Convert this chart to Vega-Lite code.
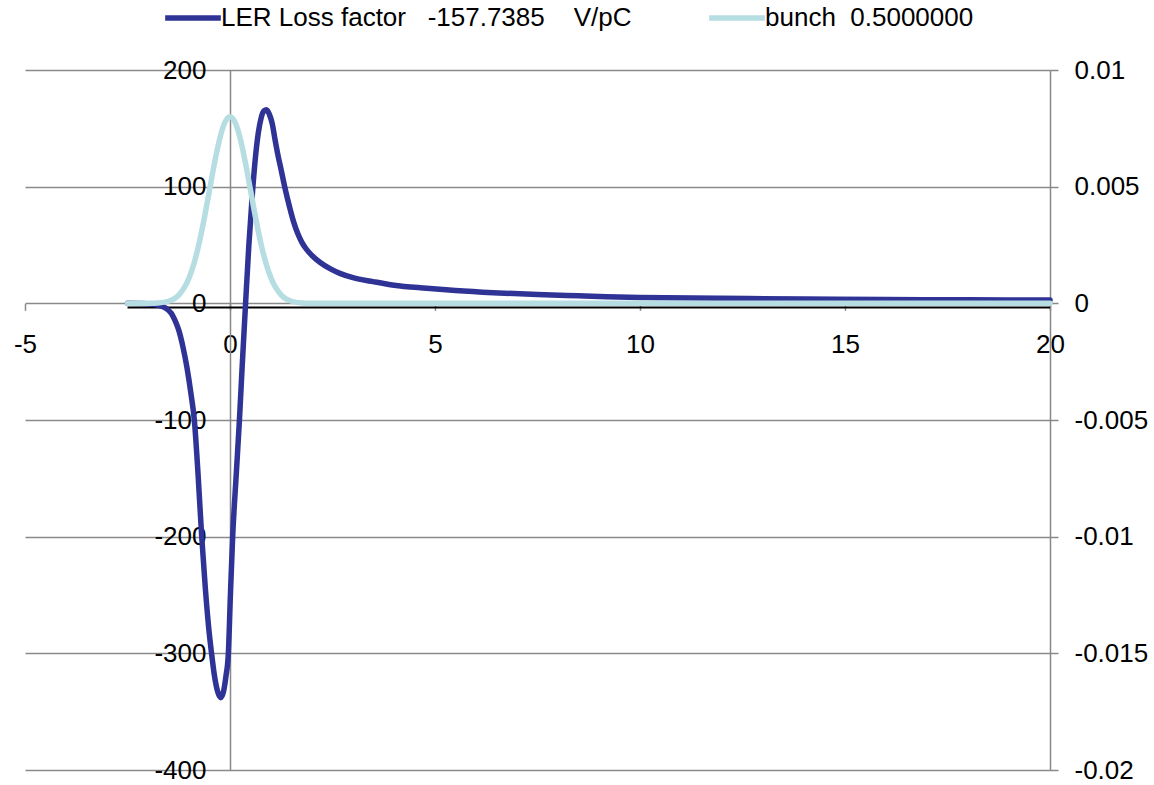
{
  "$schema": "https://vega.github.io/schema/vega-lite/v6.json",
  "width": 1025,
  "height": 700,
  "autosize": {"type": "none"},
  "padding": {"left": 25, "top": 70, "right": 104, "bottom": 15},
  "background": "white",
  "config": {
    "view": {"stroke": null},
    "font": "Liberation Sans",
    "axis": {"labelFont": "Liberation Sans", "labelFontSize": 26, "labelColor": "#000000", "title": null, "labelOverlap": false, "labelFlush": false, "labelBound": false}
  },
  "datasets": {
    "axisline": [{"x": -2.5, "x2": 20, "W": -3.6}],
    "wake": [
      {"x": -2.5, "W": 0}, {"x": -2.2, "W": -0.1}, {"x": -2.0, "W": -0.3}, {"x": -1.8, "W": -1.2},
      {"x": -1.6, "W": -3.5}, {"x": -1.5, "W": -6}, {"x": -1.43, "W": -8.6}, {"x": -1.35, "W": -14},
      {"x": -1.25, "W": -23}, {"x": -1.15, "W": -37}, {"x": -1.05, "W": -55}, {"x": -0.95, "W": -78},
      {"x": -0.87, "W": -100}, {"x": -0.78, "W": -146}, {"x": -0.69, "W": -200}, {"x": -0.6, "W": -245},
      {"x": -0.52, "W": -278}, {"x": -0.45, "W": -300}, {"x": -0.38, "W": -319}, {"x": -0.3, "W": -333},
      {"x": -0.23, "W": -338}, {"x": -0.16, "W": -333}, {"x": -0.1, "W": -320}, {"x": -0.04, "W": -300},
      {"x": 0.01, "W": -250}, {"x": 0.065, "W": -200}, {"x": 0.15, "W": -148}, {"x": 0.23, "W": -100},
      {"x": 0.3, "W": -52}, {"x": 0.38, "W": 0}, {"x": 0.46, "W": 50}, {"x": 0.55, "W": 96},
      {"x": 0.62, "W": 125}, {"x": 0.69, "W": 146}, {"x": 0.76, "W": 159}, {"x": 0.83, "W": 165},
      {"x": 0.89, "W": 166}, {"x": 0.96, "W": 162}, {"x": 1.03, "W": 154}, {"x": 1.1, "W": 140},
      {"x": 1.17, "W": 127}, {"x": 1.25, "W": 114}, {"x": 1.34, "W": 99}, {"x": 1.45, "W": 83},
      {"x": 1.55, "W": 70}, {"x": 1.65, "W": 60}, {"x": 1.75, "W": 52.5}, {"x": 1.85, "W": 47},
      {"x": 2.0, "W": 41}, {"x": 2.2, "W": 35}, {"x": 2.45, "W": 29.5}, {"x": 2.68, "W": 25.7},
      {"x": 3.0, "W": 22}, {"x": 3.49, "W": 18.6}, {"x": 4.0, "W": 15.5}, {"x": 4.8, "W": 12.9},
      {"x": 5.5, "W": 11}, {"x": 6.42, "W": 9.1}, {"x": 7.5, "W": 7.5}, {"x": 8.5, "W": 6.4},
      {"x": 9.19, "W": 5.7}, {"x": 10, "W": 5.1}, {"x": 12, "W": 4.3}, {"x": 14, "W": 3.7},
      {"x": 16, "W": 3.3}, {"x": 18, "W": 3.0}, {"x": 20, "W": 2.8}
    ],
    "bunch": [
      {"x": -2.5, "B": 0}, {"x": -2.25, "B": 0.0000003}, {"x": -2.0, "B": 0.0000027}, {"x": -1.75, "B": 0.0000175},
      {"x": -1.5, "B": 0.000089}, {"x": -1.25, "B": 0.000351}, {"x": -1.0, "B": 0.001083}, {"x": -0.875, "B": 0.001731},
      {"x": -0.75, "B": 0.002597}, {"x": -0.625, "B": 0.003662}, {"x": -0.5, "B": 0.004852}, {"x": -0.375, "B": 0.006038},
      {"x": -0.25, "B": 0.00706}, {"x": -0.125, "B": 0.007754}, {"x": 0, "B": 0.008}, {"x": 0.125, "B": 0.007754},
      {"x": 0.25, "B": 0.00706}, {"x": 0.375, "B": 0.006038}, {"x": 0.5, "B": 0.004852}, {"x": 0.625, "B": 0.003662},
      {"x": 0.75, "B": 0.002597}, {"x": 0.875, "B": 0.001731}, {"x": 1.0, "B": 0.001083}, {"x": 1.25, "B": 0.000351},
      {"x": 1.5, "B": 0.000089}, {"x": 1.75, "B": 0.0000175}, {"x": 2.0, "B": 0.0000027}, {"x": 2.25, "B": 0.0000003},
      {"x": 2.5, "B": 0}, {"x": 3, "B": 0}, {"x": 5, "B": 0}, {"x": 10, "B": 0}, {"x": 15, "B": 0}, {"x": 20, "B": 0}
    ]
  },
  "layer": [
    {
      "layer": [
        {
          "data": {"name": "axisline"},
          "mark": {"type": "rule", "color": "#000000", "strokeWidth": 2},
          "encoding": {
            "x": {"field": "x", "type": "quantitative", "scale": {"domain": [-5, 20], "nice": false, "zero": false},
              "axis": {"orient": "bottom", "offset": -466.67, "values": [-5, 0, 5, 10, 15, 20], "domain": false, "grid": false,
                "ticks": true, "tickSize": 7, "tickColor": "#888888", "tickWidth": 1.5, "labelPadding": 21,
                "labelExpr": "replace(datum.label, '\u2212', '-')"}},
            "x2": {"field": "x2"},
            "y": {"field": "W", "type": "quantitative", "scale": {"domain": [-400, 200], "nice": false, "zero": false},
              "axis": {"orient": "left", "offset": -205, "values": [200, 100, 0, -100, -200, -300, -400],
                "domain": true, "domainColor": "#888888", "domainWidth": 1.5, "ticks": false, "labelPadding": 24,
                "grid": true, "gridColor": "#8a8a8a", "gridWidth": 1.5,
                "labelExpr": "replace(datum.label, '\u2212', '-')"}}
          }
        },
        {
          "data": {"name": "wake"},
          "mark": {"type": "line", "interpolate": "monotone", "strokeWidth": 5.5, "strokeCap": "round", "strokeJoin": "round"},
          "encoding": {
            "x": {"field": "x", "type": "quantitative"},
            "y": {"field": "W", "type": "quantitative"},
            "color": {
              "datum": "LER Loss factor\u00a0\u00a0\u00a0-157.7385\u00a0\u00a0\u00a0\u00a0V/pC",
              "type": "nominal",
              "scale": {
                "domain": ["LER Loss factor\u00a0\u00a0\u00a0-157.7385\u00a0\u00a0\u00a0\u00a0V/pC", "bunch\u00a0\u00a00.5000000"],
                "range": ["#2f3395", "#b6dde1"]
              },
              "legend": {
                "orient": "none", "legendX": 137, "legendY": -83, "direction": "horizontal", "title": null,
                "symbolType": "stroke", "symbolSize": 3100, "symbolStrokeWidth": 5.5,
                "labelFontSize": 26, "labelFont": "Liberation Sans", "labelColor": "#000000", "labelOffset": -3,
                "columnPadding": 66, "padding": 0, "labelLimit": 1000
              }
            }
          }
        }
      ]
    },
    {
      "data": {"name": "bunch"},
      "mark": {"type": "line", "interpolate": "monotone", "strokeWidth": 5.5, "strokeCap": "round", "strokeJoin": "round"},
      "encoding": {
        "x": {"field": "x", "type": "quantitative"},
        "y": {"field": "B", "type": "quantitative", "scale": {"domain": [-0.02, 0.01], "nice": false, "zero": false},
          "axis": {"orient": "right", "values": [0.01, 0.005, 0, -0.005, -0.01, -0.015, -0.02], "format": "~g",
            "domain": true, "domainColor": "#888888", "domainWidth": 1.5, "ticks": true, "tickSize": 8,
            "tickColor": "#888888", "tickWidth": 1.5, "labelPadding": 16, "grid": false,
            "labelExpr": "replace(datum.label, '\u2212', '-')"}},
        "color": {"datum": "bunch\u00a0\u00a00.5000000", "type": "nominal"}
      }
    }
  ],
  "resolve": {"scale": {"y": "independent"}}
}
